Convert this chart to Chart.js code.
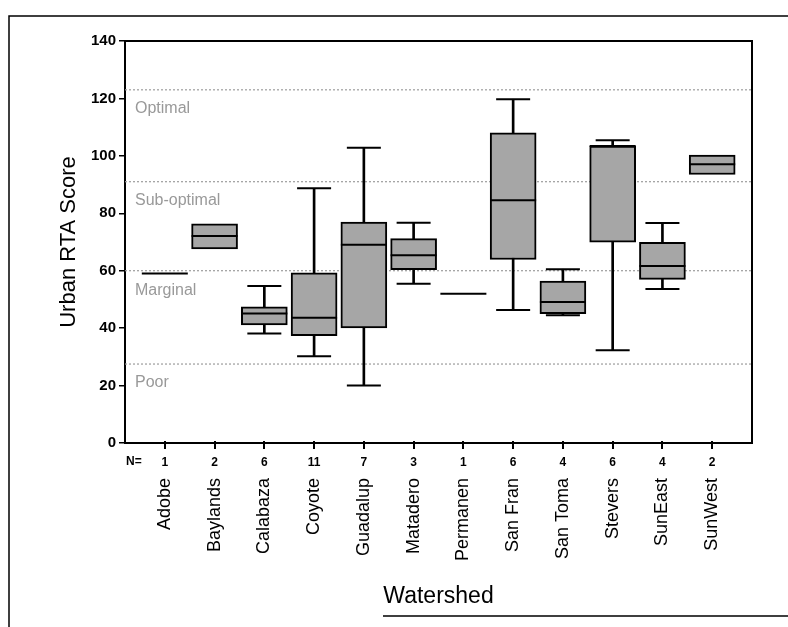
<!DOCTYPE html>
<html>
<head>
<meta charset="utf-8">
<script src="https://cdn.jsdelivr.net/npm/chart.js@4.4.1/dist/chart.umd.min.js"></script>
<style>
  html, body { margin: 0; padding: 0; background: #fff; }
</style>
</head>
<body>
<canvas id="chart1" width="788" height="627"></canvas>
<script>
// watersheds and sample sizes (N= row)
var watersheds = ["Adobe", "Baylands", "Calabaza", "Coyote", "Guadalup", "Matadero",
                  "Permanen", "San Fran", "San Toma", "Stevers", "SunEast", "SunWest"];
var nCounts = [1, 2, 6, 11, 7, 3, 1, 6, 4, 6, 4, 2];

// box plot stats, null = not drawn
var whiskLow  = [null, null, 38.1, 30.2, 20.0, 55.5, null, 46.3, 44.5, 32.3, 53.6, null];
var quart1    = [null, 67.6, 41.1, 37.4, 40.1, 60.4, null, 63.9, 45.0, 69.9, 57.0, 93.5];
var medians   = [59.0, 72.1, 45.1, 43.6, 69.0, 65.4, 52.0, 84.5, 49.1, 103.4, 61.6, 97.1];
var quart3    = [null, 76.3, 47.4, 59.3, 76.9, 71.2, null, 108.0, 56.4, 103.4, 69.9, 100.3];
var whiskHigh = [null, null, 54.7, 88.7, 102.8, 76.7, null, 119.7, 60.5, 105.4, 76.6, null];

var yTicks = [0, 20, 40, 60, 80, 100, 120, 140];

// RTA condition classes
var classBreaks = [123, 91, 60, 27.5];
var classNames = ["Optimal", "Sub-optimal", "Marginal", "Poor"];
var classLabelAt = [116.5, 84.5, 53, 21];

var font = "'Liberation Sans', Arial, sans-serif";
var xMin = -0.8, xMax = 11.8;

// build the point lists for the library
var boxPts = [], whiskPts = [], capPts = [], medPts = [];
watersheds.forEach(function(w, i) {
    if (quart1[i] !== null) boxPts.push({x: i, y: [quart1[i], quart3[i]]});
    if (whiskLow[i] !== null) {
        whiskPts.push({x: i, y: [whiskLow[i], whiskHigh[i]]});
        capPts.push({x: i, y: whiskLow[i]});
        capPts.push({x: i, y: whiskHigh[i]});
    }
    medPts.push({x: i, y: medians[i]});
});

var datasets = [];
classBreaks.forEach(function(v) {
    datasets.push({
        type: "line",
        data: [{x: xMin, y: v}, {x: xMax, y: v}],
        borderColor: "#9c9c9c",
        borderWidth: 1.2,
        borderDash: [2, 2],
        pointRadius: 0,
        order: 5
    });
});
datasets.push({
    type: "bar", data: whiskPts, backgroundColor: "#000",
    barThickness: 2, grouped: false, order: 4
});
datasets.push({
    type: "scatter", data: capPts, pointStyle: "line", pointRadius: 17,
    pointBorderWidth: 2, pointBorderColor: "#000", order: 3
});
datasets.push({
    type: "bar", data: boxPts, backgroundColor: "#a6a6a6", borderColor: "#000",
    borderWidth: 2, borderSkipped: false, barThickness: 46, grouped: false, order: 2
});
datasets.push({
    type: "scatter", data: medPts, pointStyle: "line", pointRadius: 23,
    pointBorderWidth: 2, pointBorderColor: "#000", order: 1
});

// frame, outer border, class names, x tick marks and the N= caption
var decor = {
    id: "decor",
    beforeDatasetsDraw: function(chart) {
        var ctx = chart.ctx, a = chart.chartArea, ys = chart.scales.y;
        ctx.save();
        ctx.fillStyle = "#999";
        ctx.font = "16px " + font;
        ctx.textBaseline = "middle";
        classNames.forEach(function(t, i) {
            ctx.fillText(t, a.left + 10, ys.getPixelForValue(classLabelAt[i]));
        });
        ctx.restore();
    },
    afterDraw: function(chart) {
        var ctx = chart.ctx, a = chart.chartArea, xs = chart.scales.x;
        ctx.save();
        ctx.strokeStyle = "#000";
        ctx.lineWidth = 2;
        ctx.beginPath();
        ctx.moveTo(a.left, a.top);
        ctx.lineTo(a.right, a.top);
        ctx.lineTo(a.right, a.bottom);
        xs.ticks.forEach(function(t) {
            var px = Math.round(xs.getPixelForValue(t.value));
            ctx.moveTo(px, a.bottom - 2);
            ctx.lineTo(px, a.bottom + 6);
        });
        ctx.stroke();
        ctx.lineWidth = 1.5;
        ctx.beginPath();
        ctx.moveTo(9, 627);
        ctx.lineTo(9, 16);
        ctx.lineTo(788, 16);
        ctx.moveTo(383, 616);
        ctx.lineTo(788, 616);
        ctx.stroke();
        ctx.fillStyle = "#000";
        ctx.font = "bold 12px " + font;
        ctx.textAlign = "center";
        ctx.textBaseline = "middle";
        ctx.fillText("N=", xs.getPixelForValue(-0.62), a.bottom + 19);
        ctx.restore();
    }
};

var chart = new Chart(document.getElementById("chart1").getContext("2d"), {
    type: "bar",
    data: {datasets: datasets},
    options: {
        responsive: false,
        animation: false,
        layout: {padding: {left: 0, right: 36, top: 41, bottom: 15}},
        plugins: {legend: {display: false}, tooltip: {enabled: false}},
        scales: {
            x: {
                type: "linear", min: xMin, max: xMax, position: "bottom", weight: 0, offset: false,
                afterBuildTicks: function(axis) {
                    axis.ticks = watersheds.map(function(w, i) { return {value: i}; });
                },
                afterFit: function(axis) { axis.height = 27; },
                ticks: {
                    autoSkip: false, maxRotation: 0, minRotation: 0, padding: 12, color: "#000",
                    font: {family: font, size: 12, weight: "bold"},
                    callback: function(v, idx) { return String(nCounts[idx]); }
                },
                grid: {offset: false, drawOnChartArea: false, drawTicks: false},
                border: {color: "#000", width: 2}
            },
            xNames: {
                type: "linear", min: xMin, max: xMax, position: "bottom", weight: 1, offset: false,
                afterBuildTicks: function(axis) {
                    axis.ticks = watersheds.map(function(w, i) { return {value: i}; });
                },
                afterFit: function(axis) { axis.height = 142; },
                ticks: {
                    autoSkip: false, maxRotation: 90, minRotation: 90, padding: 8, color: "#000",
                    font: {family: font, size: 18},
                    callback: function(v, idx) { return watersheds[idx]; }
                },
                grid: {display: false, drawTicks: false, offset: false},
                border: {display: false},
                title: {display: true, text: "Watershed", color: "#000",
                        font: {family: font, size: 23}, padding: {top: 0, bottom: 2}}
            },
            y: {
                min: 0, max: 140,
                afterBuildTicks: function(axis) {
                    axis.ticks = yTicks.map(function(v) { return {value: v}; });
                },
                afterFit: function(axis) { axis.width = 125; },
                ticks: {padding: 3, color: "#000", font: {family: font, size: 15, weight: "bold"}},
                grid: {drawOnChartArea: false, tickLength: 6, color: "#000", lineWidth: 1.5},
                border: {color: "#000", width: 2},
                title: {display: true, text: "Urban RTA Score", color: "#000",
                        font: {family: font, size: 22}, padding: {top: 56, bottom: 0}}
            }
        }
    },
    plugins: [decor]
});
</script>
</body>
</html>
